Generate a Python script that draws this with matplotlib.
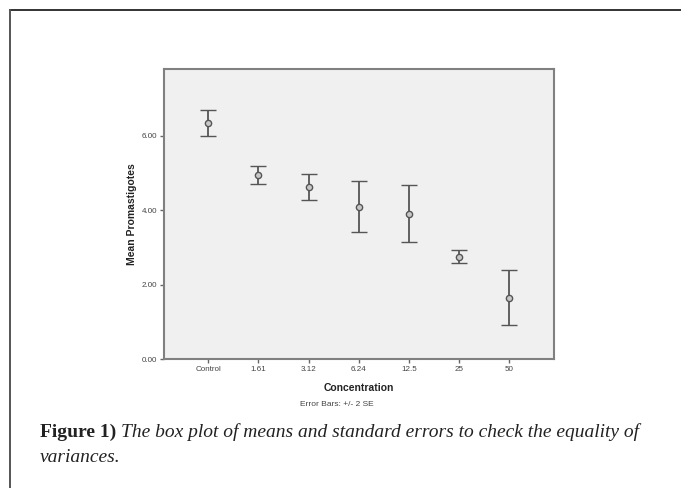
import numpy as np
import matplotlib.pyplot as plt
from matplotlib.lines import Line2D

# values
groups = ["Control", "1.61", "3.12", "6.24", "12.5", "25", "50"]
means = [6.33, 4.95, 4.61, 4.09, 3.90, 2.75, 1.64]
upper = [6.68, 5.19, 4.97, 4.78, 4.67, 2.93, 2.40]
lower = [5.98, 4.71, 4.27, 3.40, 3.14, 2.57, 0.90]
yticks = [0.0, 2.0, 4.0, 6.0]

plt.rcParams["font.family"] = ["Liberation Sans", "DejaVu Sans"]

W, H = 681, 488
fig = plt.figure(figsize=(W / 100, H / 100), dpi=100, facecolor="w")

# outer frame of the figure panel (top and left edges only)
fig.add_artist(Line2D([10 / W, 1], [1 - 10 / H, 1 - 10 / H], transform=fig.transFigure,
                      color="#333333", lw=1.4))
fig.add_artist(Line2D([10 / W, 10 / W], [0, 1 - 10 / H], transform=fig.transFigure,
                      color="#555555", lw=1.4))

ax = fig.add_axes([164 / W, (H - 359) / H, 390 / W, 290 / H])
ax.set_facecolor("#f0f0f0")

x = np.arange(len(groups))
m = np.array(means)
err = [m - np.array(lower), np.array(upper) - m]
ax.errorbar(x, m, yerr=err, fmt="o", color="#555555", ecolor="#555555",
            elinewidth=1.3, capsize=6, capthick=1.3, markersize=4.5,
            markerfacecolor="#c8c8c8", markeredgecolor="#555555", markeredgewidth=1.0)

ax.set_xlim(-0.88, 6.89)
ax.set_ylim(0, 7.79)
ax.set_xticks(x)
ax.set_xticklabels(groups)
ax.set_yticks(yticks)
ax.set_yticklabels(["%.2f" % v for v in yticks])
ax.tick_params(axis="both", labelsize=5.8, labelcolor="#444444", color="#666666",
               length=3, width=1, direction="out", pad=2)

for spine in ax.spines.values():
    spine.set_color("#808080")
    spine.set_linewidth(1.5)

ax.set_xlabel("Concentration", fontsize=7.5, fontweight="bold", color="#222222", labelpad=7)
ax.set_ylabel("Mean Promastigotes", fontsize=7.5, fontweight="bold", color="#222222", labelpad=3)

fig.text(337 / W, 1 - 404 / H, "Error Bars: +/- 2 SE", fontsize=6, color="#444444",
         ha="center", va="center")

# caption: bold label followed by italic text
cap_fs = 14
fam = ["Liberation Serif", "DejaVu Serif"]
t1 = fig.text(40 / W, 1 - 437 / H, "Figure 1)", fontsize=cap_fs, fontweight="bold",
              family=fam, color="#222222", va="baseline")
fig.canvas.draw()
bb = t1.get_window_extent()
fig.text((bb.x1 + 5) / W, 1 - 437 / H,
         "The box plot of means and standard errors to check the equality of",
         fontsize=cap_fs, fontstyle="italic", family=fam, color="#222222", va="baseline")
fig.text(40 / W, 1 - 462 / H, "variances.", fontsize=cap_fs, fontstyle="italic",
         family=fam, color="#222222", va="baseline")

fig.savefig("out.png", dpi=100, facecolor="w")
